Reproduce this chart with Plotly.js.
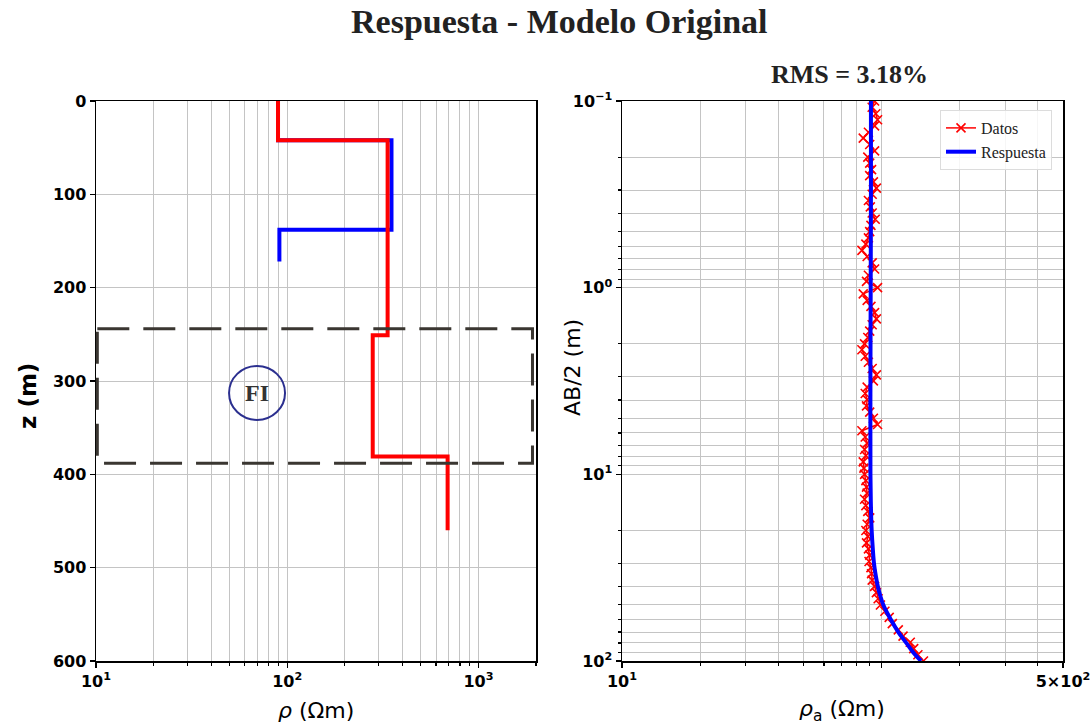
<!DOCTYPE html>
<html><head><meta charset="utf-8">
<script src="https://cdn.plot.ly/plotly-3.0.1.min.js"></script>
<style>html,body{margin:0;padding:0;background:#fff}#chart{width:1092px;height:726px}</style>
</head><body><div id="chart"></div>
<script>
// ---- Left panel: layered models (resistivity vs depth) ----
const modelRespRho = [89.5, 89.5, 351, 351, 91, 91];
const modelRespZ   = [0, 42, 42, 138, 138, 172];
const modelOrigRho = [89.5, 89.5, 335, 335, 280, 280, 690, 690];
const modelOrigZ   = [0, 42, 42, 251, 251, 381, 381, 460];
const fiTopZ = 244;
const fiBottomZ = 388;

// ---- Right panel: apparent resistivity sounding ----
const ab2 = [0.1, 0.108, 0.117, 0.126, 0.136, 0.147, 0.158, 0.171, 0.185, 0.2,
  0.215, 0.233, 0.251, 0.271, 0.293, 0.316, 0.341, 0.369, 0.398, 0.43,
  0.464, 0.501, 0.541, 0.584, 0.631, 0.681, 0.736, 0.794, 0.858, 0.926, 1.0,
  1.08, 1.17, 1.26, 1.36, 1.47, 1.58, 1.71, 1.85, 2.0,
  2.15, 2.33, 2.51, 2.71, 2.93, 3.16, 3.41, 3.69, 3.98, 4.3,
  4.64, 5.01, 5.41, 5.84, 6.31, 6.81, 7.36, 7.94, 8.58, 9.26, 10,
  10.8, 11.7, 12.6, 13.6, 14.7, 15.8, 17.1, 18.5, 20,
  21.5, 23.3, 25.1, 27.1, 29.3, 31.6, 34.1, 36.9, 39.8, 43,
  46.4, 50.1, 54.1, 58.4, 63.1, 68.1, 73.6, 79.4, 85.8, 92.6, 100];
const rhoData = [94, 92, 95, 96.5, 94, 89, 85, 90, 94, 88.5,
  90, 91.5, 90, 93, 95.5, 92, 89, 90.5, 92, 94.5,
  91, 90, 89, 87, 84, 88, 92, 94, 89, 87.5, 96.5,
  85, 88, 91, 94, 95.5, 92, 90, 88.5, 86,
  84, 86.5, 89, 92, 95.5, 93, 88, 86.5, 88, 87.5,
  90, 93, 96.5, 84, 86.5, 88, 86, 87, 85, 85.5, 86,
  87, 87.5, 88, 86, 87, 88.5, 90, 88, 87,
  88.5, 87.5, 89, 90, 89.5, 91, 91.5, 92, 94, 95.5,
  97, 99, 103, 107, 110, 116, 121, 129, 133, 138, 145];
const ab2Resp = [0.1, 0.3, 1, 3, 10, 15, 20, 25, 30, 35, 40, 45, 50, 60, 70, 80, 90, 100];
const rhoResp = [91, 91, 90.8, 90.6, 90.6, 91, 91.6, 92.5, 93.5, 95, 96.8, 99, 101.5, 108.5, 116, 124.5, 132.5, 142];

// ---- Tick values / labels ----
const leftXTickVals = [10, 100, 1000];
const leftXTickText = ['10<sup>1</sup>', '10<sup>2</sup>', '10<sup>3</sup>'];
const leftXMinor = [20,30,40,50,60,70,80,90,200,300,400,500,600,700,800,900,2000];
const leftYTicks = [0, 100, 200, 300, 400, 500, 600];
const rightXTickVals = [10, 100, 500];
const rightXTickText = ['10<sup>1</sup>', '', '5×10<sup>2</sup>'];
const rightXMinor = [20,30,40,50,60,70,80,90,200,300,400];
const rightYTickVals = [0.1, 1, 10, 100];
const rightYTickText = ['10<sup>−1</sup>', '10<sup>0</sup>', '10<sup>1</sup>', '10<sup>2</sup>'];
const rightYMinor = [0.2,0.3,0.4,0.5,0.6,0.7,0.8,0.9,2,3,4,5,6,7,8,9,20,30,40,50,60,70,80,90];

const W = 1092, H = 726;
const px = x => x / W, py = y => 1 - y / H;

const tickFont = {family: 'DejaVu Sans', size: 16, color: '#000', weight: 'bold'};
const gridCol = '#c4c4c4';
function axisBase(extra) {
  return Object.assign({
    showline: true, mirror: true, linecolor: '#000', linewidth: 1.5,
    ticks: 'outside', ticklen: 5, tickwidth: 1.2, tickcolor: '#000',
    showgrid: true, gridcolor: gridCol, gridwidth: 1, zeroline: false,
    tickfont: tickFont, fixedrange: true
  }, extra);
}
function ann(text, x, y, font, extra) {
  return Object.assign({text: text, xref: 'paper', yref: 'paper', x: x, y: y,
    xanchor: 'center', yanchor: 'middle', showarrow: false, font: font}, extra || {});
}

const traces = [
  {x: modelRespRho, y: modelRespZ, xaxis: 'x', yaxis: 'y', mode: 'lines',
   line: {color: '#0000ff', width: 4}, showlegend: false, hoverinfo: 'skip'},
  {x: modelOrigRho, y: modelOrigZ, xaxis: 'x', yaxis: 'y', mode: 'lines',
   line: {color: '#ff0000', width: 4}, showlegend: false, hoverinfo: 'skip'},
  {x: rhoData, y: ab2, xaxis: 'x2', yaxis: 'y2', mode: 'lines+markers', name: 'Datos',
   line: {color: '#ff0000', width: 1.5},
   marker: {symbol: 'x-thin', size: 9, color: '#ff0000', line: {color: '#ff0000', width: 1.6}}},
  {x: rhoResp, y: ab2Resp, xaxis: 'x2', yaxis: 'y2', mode: 'lines', name: 'Respuesta',
   line: {color: '#0000ff', width: 4, shape: 'spline'}}
];

const layout = {
  width: W, height: H,
  margin: {l: 0, r: 0, t: 0, b: 0},
  paper_bgcolor: '#fff', plot_bgcolor: '#fff',
  showlegend: true,
  legend: {x: px(1052), y: py(110), xanchor: 'right', yanchor: 'top',
    bgcolor: 'rgba(255,255,255,0.85)', bordercolor: '#dcdcdc', borderwidth: 1,
    font: {family: 'Liberation Serif', size: 16, color: '#222'}, tracegroupgap: 0},
  xaxis: axisBase({type: 'log', domain: [px(96), px(536)], anchor: 'y',
    range: [1, Math.log10(2000)], tickmode: 'array', tickvals: leftXTickVals, ticktext: leftXTickText,
    minor: {tickmode: 'array', tickvals: leftXMinor, ticks: 'outside', ticklen: 3, tickcolor: '#000',
      showgrid: true, gridcolor: gridCol, gridwidth: 1}}),
  yaxis: axisBase({domain: [py(661), py(101)], anchor: 'x', range: [600, 0],
    tickmode: 'array', tickvals: leftYTicks}),
  xaxis2: axisBase({type: 'log', domain: [px(622), px(1063)], anchor: 'y2',
    range: [1, Math.log10(500)], tickmode: 'array', tickvals: rightXTickVals, ticktext: rightXTickText,
    minor: {tickmode: 'array', tickvals: rightXMinor, ticks: 'outside', ticklen: 3, tickcolor: '#000',
      showgrid: true, gridcolor: gridCol, gridwidth: 1}}),
  yaxis2: axisBase({type: 'log', domain: [py(661), py(101)], anchor: 'x2', range: [2, -1],
    tickmode: 'array', tickvals: rightYTickVals, ticktext: rightYTickText,
    minor: {tickmode: 'array', tickvals: rightYMinor, ticks: 'outside', ticklen: 3, tickcolor: '#000',
      showgrid: true, gridcolor: gridCol, gridwidth: 1}}),
  shapes: [
    {type: 'rect', xref: 'x domain', yref: 'y', x0: 0.003, x1: 0.992, y0: fiTopZ, y1: fiBottomZ,
     line: {color: '#3a3631', width: 3, dash: '32px,14px'}, fillcolor: 'rgba(0,0,0,0)'},
    {type: 'circle', xref: 'x domain', yref: 'y domain', x0: 0.366 - 0.0636, x1: 0.366 + 0.0636,
     y0: 0.4786 - 0.0482, y1: 0.4786 + 0.0482, line: {color: '#2b2f8f', width: 2}}
  ],
  annotations: [
    ann('Respuesta - Modelo Original', px(559), py(22),
      {family: 'Liberation Serif', size: 34, color: '#222', weight: 'bold'}),
    ann('RMS = 3.18%', px(849), py(75), {family: 'Liberation Serif', size: 26, color: '#222', weight: 'bold'}),
    ann('FI', 0.366, 0.4786, {family: 'Liberation Serif', size: 24, color: '#333', weight: 'bold'},
      {xref: 'x domain', yref: 'y domain'}),
    ann('<i>ρ</i> (Ωm)', px(316), py(710), {family: 'DejaVu Sans', size: 22, color: '#000'}),
    ann('<i>ρ</i><sub>a</sub> (Ωm)', px(842), py(710), {family: 'DejaVu Sans', size: 22, color: '#000'}),
    ann('z (m)', px(28), py(396), {family: 'DejaVu Sans', size: 23, color: '#000', weight: 'bold'},
      {textangle: -90}),
    ann('AB/2 (m)', px(572), py(368), {family: 'DejaVu Sans', size: 22, color: '#000'},
      {textangle: -90})
  ]
};

Plotly.newPlot('chart', traces, layout, {staticPlot: true, displayModeBar: false});
</script>
</body></html>
